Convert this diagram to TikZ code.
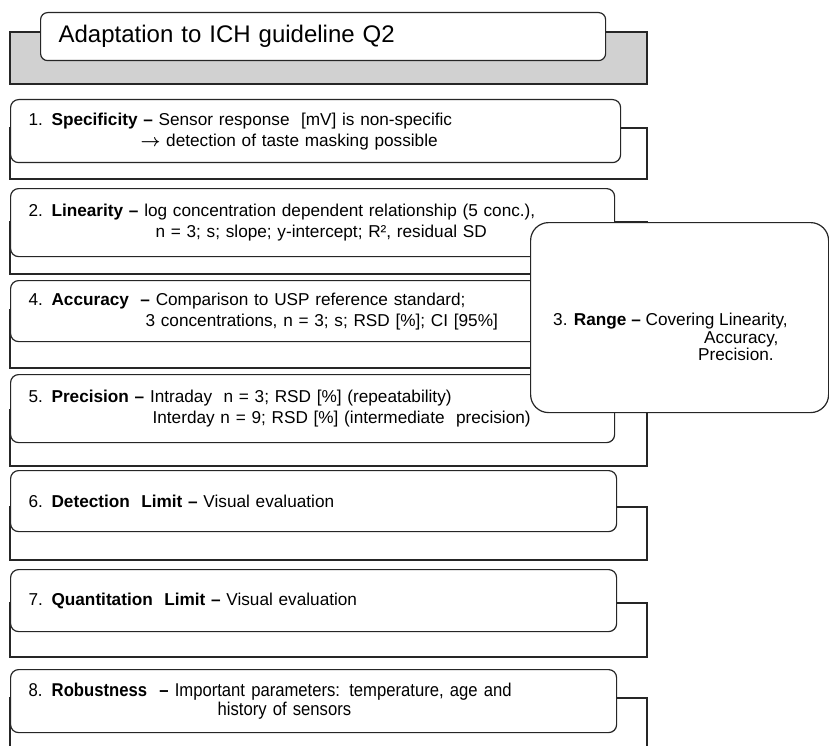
\documentclass[tikz,border=0pt]{standalone}
\usepackage{fontspec}
\setmainfont{Liberation Sans}
\newfontfamily\narrowsans{Liberation Sans}[FakeStretch=0.9]
\usepackage{xcolor}
\usepackage{tikz}
\usetikzlibrary{positioning}
\definecolor{bandgray}{gray}{0.82}
\newcommand{\toarrow}{{\boldmath$\rightarrow$}}
\tikzset{
  back/.style ={draw=black!85, line width=1.2pt, fill=white},
  band/.style ={back, fill=bandgray},
  item/.style ={rectangle, rounded corners=8pt, draw=black!85, line width=1.2pt,
                fill=white, align=left, anchor=north west, inner xsep=18pt,
                inner ysep=0pt, font=\fontsize{17.2}{21}\selectfont},
  hdr/.style  ={item, rounded corners=7pt, font=\fontsize{24}{27}\selectfont},
  rngbox/.style={item, rounded corners=18pt, minimum width=298pt, minimum height=190pt},
  rngtxt/.style={align=left, anchor=north west, inner sep=0pt,
                 font=\fontsize{17.2}{17.5}\selectfont},
}

\begin{document}
\begin{tikzpicture}[x=1pt, y=-1pt]
  \useasboundingbox (0,0) rectangle (829,746);

  % title band
  \draw[band] (10,32) rectangle (647,84);
  \node[hdr, text width=529pt, minimum height=48pt] (title) at (40,12)
       {Adaptation to ICH guideline Q2};

  % 1. specificity
  \draw[back] (10,128) rectangle (647,179);
  \node[item, text width=574pt, minimum height=63pt] (spec) at (10,99)
       {1. \textbf{Specificity –} Sensor response~ [mV] is non-specific\\
        \hspace*{112pt}\toarrow{} detection of taste masking possible};

  % 2. linearity
  \draw[back] (10,222) rectangle (647,274);
  \node[item, text width=568pt, minimum height=68pt] (lin) at (10,188)
       {2. \textbf{Linearity –} log concentration dependent relationship (5 conc.),\\
        \hspace*{127pt}n = 3; s; slope; y-intercept; R², residual SD};

  % 4. accuracy
  \draw[back] (10,310) rectangle (647,368);
  \node[item, text width=568pt, minimum height=61pt] (acc) at (10,280)
       {4. \textbf{Accuracy}~ \textbf{–} Comparison to USP reference standard;\\
        \hspace*{117pt}3 concentrations, n = 3; s; RSD [\%]; CI [95\%]};

  % 5. precision
  \draw[back] (10,410) rectangle (647,466);
  \node[item, text width=568pt, minimum height=68pt] (prec) at (10,374)
       {5. \textbf{Precision –} Intraday~ n = 3; RSD [\%] (repeatability)\\
        \hspace*{124pt}Interday n = 9; RSD [\%] (intermediate~ precision)};

  % 6. detection limit
  \draw[back] (10,507) rectangle (647,560);
  \node[item, text width=570pt, minimum height=61pt] (det) at (10,470)
       {6. \textbf{Detection~ Limit –} Visual evaluation};

  % 7. quantitation limit
  \draw[back] (10,603) rectangle (647,657);
  \node[item, text width=570pt, minimum height=62pt] (quant) at (10,569)
       {7. \textbf{Quantitation~ Limit –} Visual evaluation};

  % 8. robustness
  \draw[back] (10,698) rectangle (647,752);
  \node[item, text width=570pt, minimum height=63pt,
        font=\narrowsans\fontsize{18.5}{17}\selectfont] (rob) at (10,669)
       {8. \textbf{Robustness}~ \textbf{–} Important parameters: temperature, age and\\
        \hspace*{189pt}history of sensors};

  % 3. range, laid over 2--5
  \node[rngbox] (range) at (530,222) {};
  \node[rngtxt] (rangetxt) at (553,313)
       {3. \textbf{Range –} Covering Linearity,\\
        \hspace*{151pt}Accuracy,\\
        \hspace*{145pt}Precision.};
\end{tikzpicture}
\end{document}
